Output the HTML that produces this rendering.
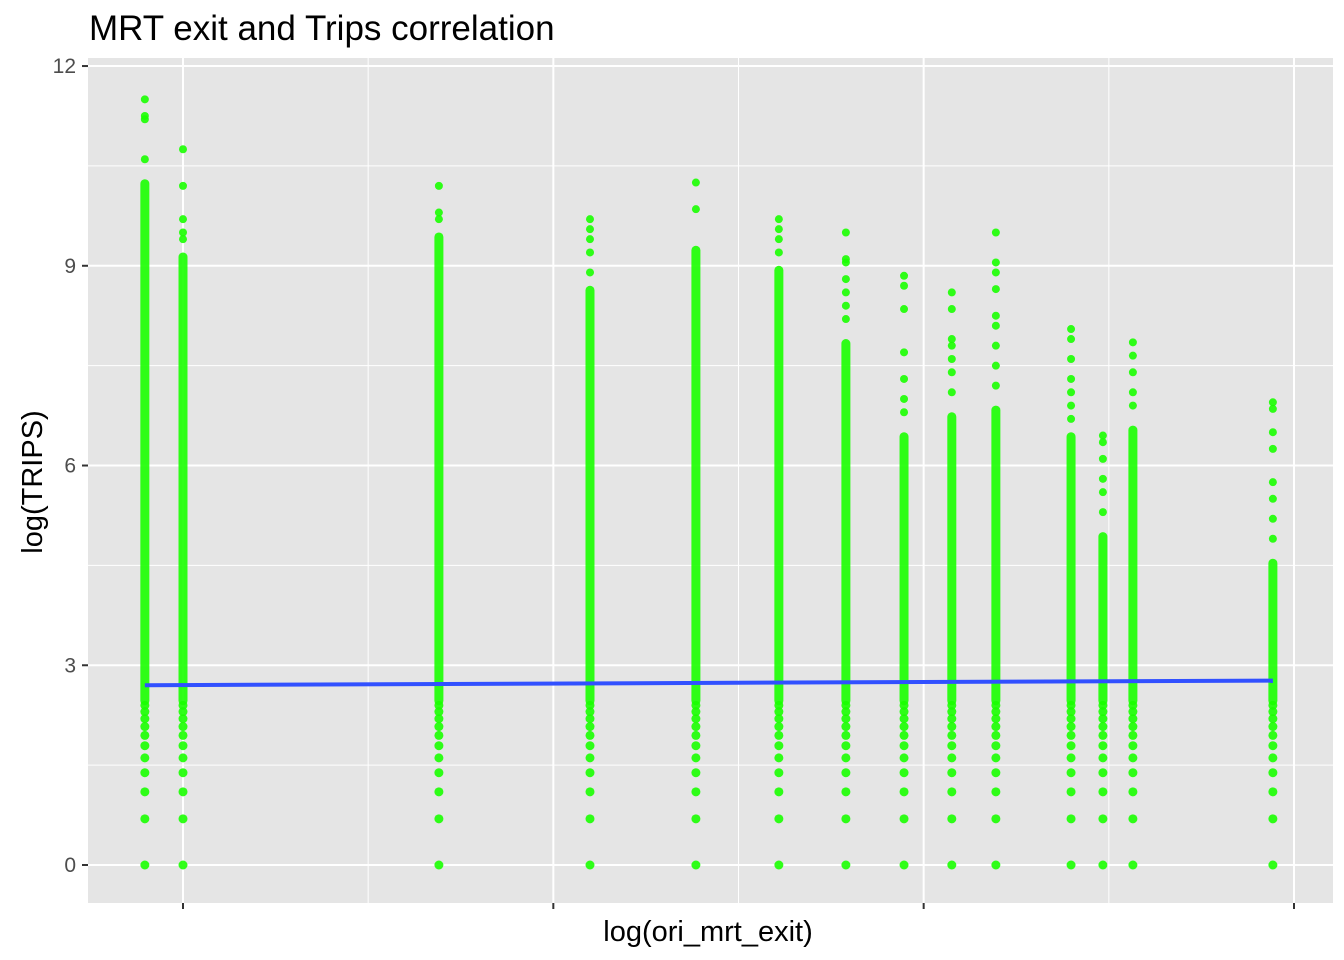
<!DOCTYPE html>
<html><head><meta charset="utf-8"><style>
body{margin:0;background:#fff;}
svg{display:block;font-family:"Liberation Sans",Arial,sans-serif;}
</style></head><body>
<svg id="chart" width="1344" height="960">
<text x="89" y="40" font-size="35" fill="#000">MRT exit and Trips correlation</text>
<rect x="88" y="58" width="1245" height="845" fill="#e5e5e5"/>
<g id="grid"></g><g id="pts"></g><g id="axes"></g>
<text x="708" y="941" font-size="29" text-anchor="middle" fill="#000">log(ori_mrt_exit)</text>
<text transform="translate(42,482) rotate(-90)" font-size="29" text-anchor="middle" fill="#000">log(TRIPS)</text>
</svg>
<script>
const colX=[-0.103,0,0.691,1.099,1.385,1.609,1.790,1.947,2.076,2.195,2.398,2.484,2.565,2.943];
const denseTop=[10.3,9.2,9.5,8.7,9.3,9.0,7.9,6.5,6.8,6.9,6.5,5.0,6.6,4.6];
const outliers=[[10.6,11.2,11.25,11.5],[9.4,9.5,9.7,10.2,10.75],[9.7,9.8,10.2],[8.9,9.2,9.4,9.55,9.7],[9.85,10.25],[9.2,9.4,9.55,9.7],[8.2,8.4,8.6,8.8,9.05,9.1,9.5],[6.8,7.0,7.3,7.7,8.35,8.7,8.85],[7.1,7.4,7.6,7.8,7.9,8.35,8.6],[7.2,7.5,7.8,8.1,8.25,8.65,8.9,9.05,9.5],[6.7,6.9,7.1,7.3,7.6,7.9,8.05],[5.3,5.6,5.8,6.1,6.35,6.45],[6.9,7.1,7.4,7.65,7.85],[4.9,5.2,5.5,5.75,6.25,6.5,6.85,6.95]];
const lowVals=[0,0.693,1.099,1.386,1.609,1.792,1.946,2.079,2.197,2.303,2.398];
const yTicks=[0,3,6,9,12];
const xTicks=[0,1,2,3];
const fitX=[-0.103,2.943];
const fitY=[2.70,2.77];
const X=v=>183+v*370.33, Y=v=>865-v*66.58;
const NS='http://www.w3.org/2000/svg';
function mk(p,t,a){const e=document.createElementNS(NS,t);for(const k in a)e.setAttribute(k,a[k]);p.appendChild(e);return e;}
const grid=document.getElementById('grid'),pts=document.getElementById('pts'),axes=document.getElementById('axes');
for(let i=0;i<yTicks.length;i++){
 const y=Y(yTicks[i]);
 const g=mk(grid,'line',{x1:88,x2:1333,y1:y,y2:y,stroke:'#fff','stroke-width':2});
 
 
 if(i<yTicks.length-1){const m=Y((yTicks[i]+yTicks[i+1])/2);mk(grid,'line',{x1:88,x2:1333,y1:m,y2:m,stroke:'#fff','stroke-width':1});}
 mk(axes,'line',{x1:82,x2:88,y1:y,y2:y,stroke:'#333','stroke-width':2});
 const l=mk(axes,'text',{x:76,y:y+7,'font-size':21,'text-anchor':'end',fill:'#4d4d4d'});
 l.textContent=yTicks[i];
 
 
}
for(let i=0;i<xTicks.length;i++){
 const x=X(xTicks[i]);
 const g=mk(grid,'line',{x1:x,x2:x,y1:58,y2:903,stroke:'#fff','stroke-width':2});
 
 
 if(i<xTicks.length-1){const m=X((xTicks[i]+xTicks[i+1])/2);mk(grid,'line',{x1:m,x2:m,y1:58,y2:903,stroke:'#fff','stroke-width':1});}
 mk(axes,'line',{x1:x,x2:x,y1:903,y2:909,stroke:'#333','stroke-width':2});
}
const C='#1aff00';
for(let c=0;c<colX.length;c++){
 const x=X(colX[c]);
 const g=mk(pts,'g',{fill:C,'fill-opacity':0.9});
 
 
 lowVals.forEach(v=>mk(g,'circle',{cx:x,cy:Y(v),r:4.5}));
 mk(g,'rect',{x:x-4.5,y:Y(denseTop[c]),width:9,height:Y(2.4)-Y(denseTop[c]),rx:4.5});
 outliers[c].forEach(v=>mk(g,'circle',{cx:x,cy:Y(v),r:4}));
}
const fl=mk(pts,'line',{x1:X(fitX[0]),x2:X(fitX[1]),y1:Y(fitY[0]),y2:Y(fitY[1]),stroke:'#3150ff','stroke-width':4});


</script>
</body></html>
